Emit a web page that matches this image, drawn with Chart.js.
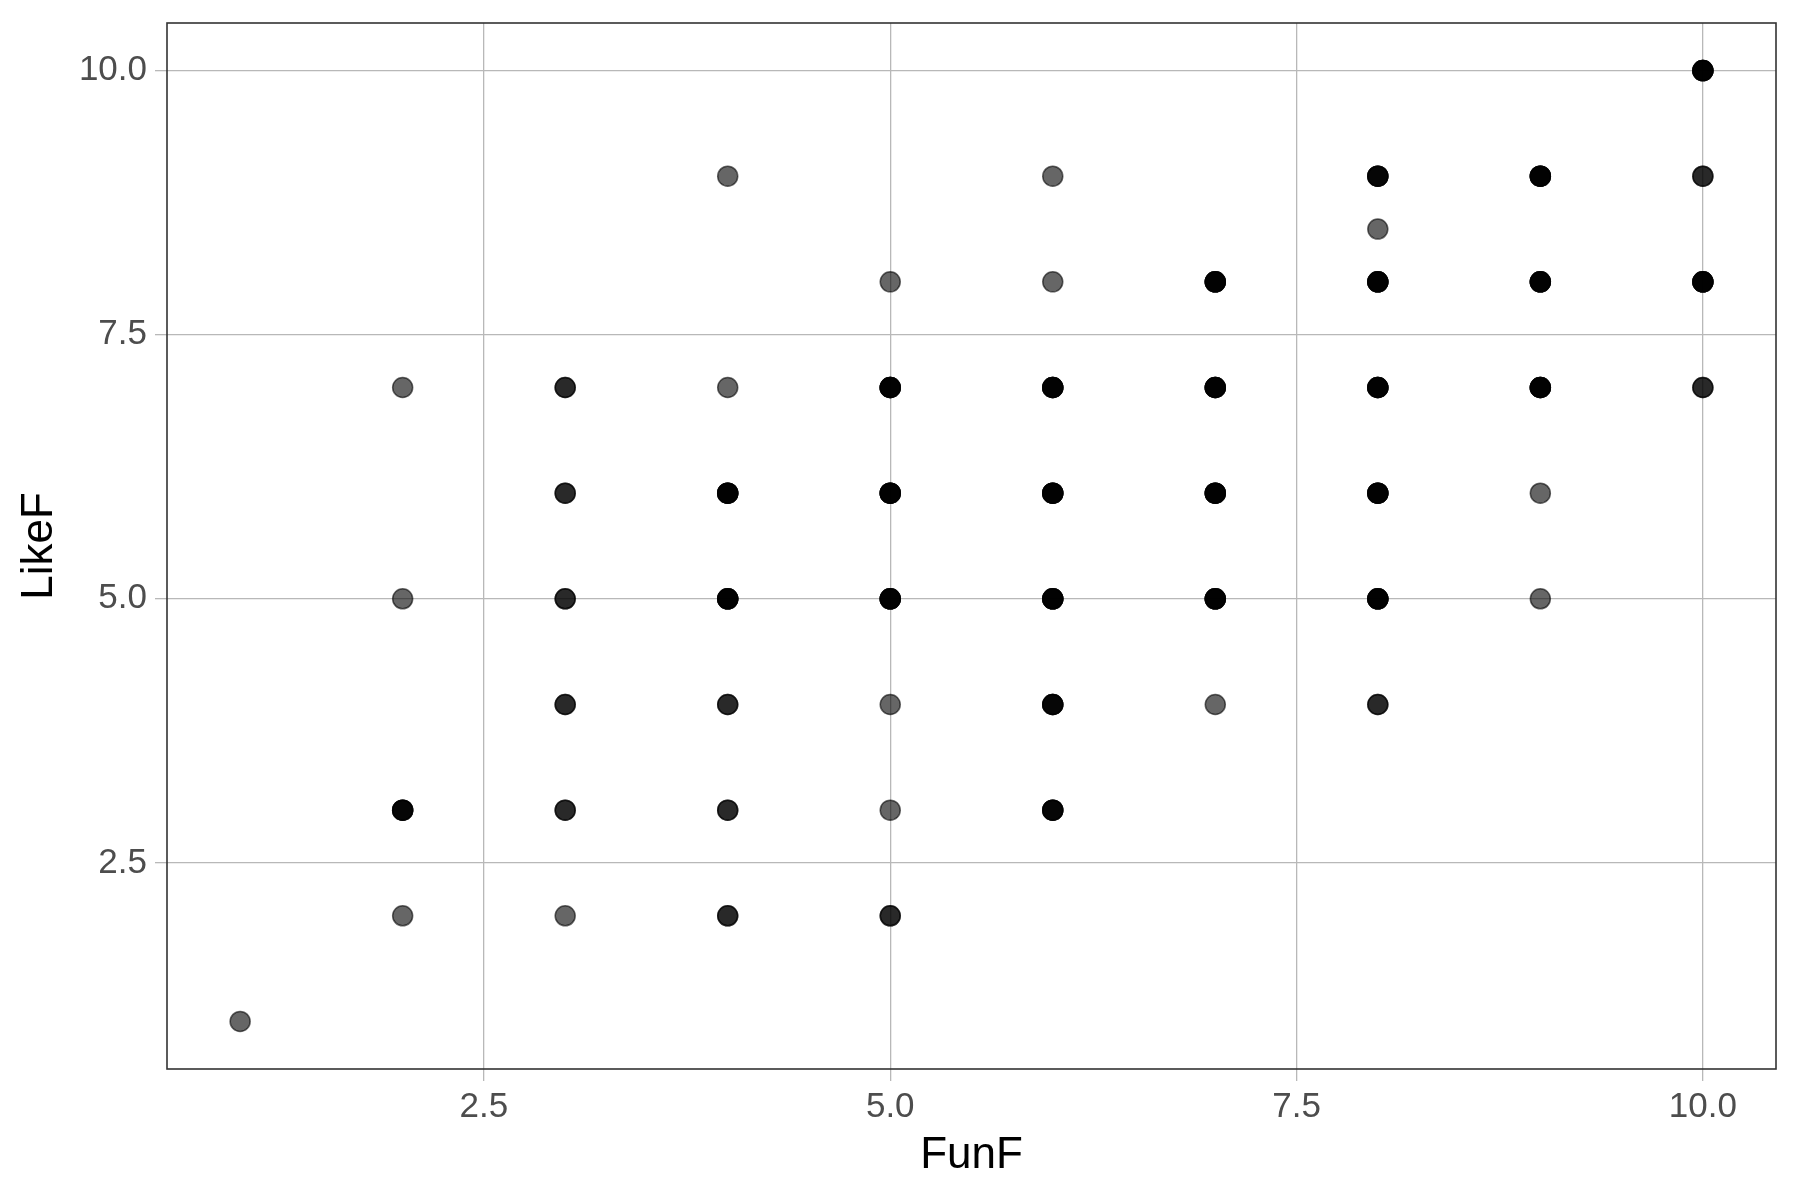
<!DOCTYPE html>
<html>
<head>
<meta charset="utf-8">
<script src="https://cdn.jsdelivr.net/npm/chart.js@4"></script>
<style>
  html, body { margin: 0; padding: 0; background: #fff; }
  #wrap { width: 1800px; height: 1200px; }
</style>
</head>
<body>
<div id="wrap"><canvas id="chart" width="1800" height="1200"></canvas></div>
<script>
// Distinct (FunF, LikeF) positions and how many responses sit on each one
const funF  = [1,  2, 2, 2, 2,  3, 3, 3, 3, 3, 3,  4, 4, 4, 4, 4, 4, 4,  5, 5, 5, 5, 5, 5, 5,
               6, 6, 6, 6, 6, 6, 6,  7, 7, 7, 7, 7,  8, 8, 8, 8, 8, 8, 8,  9, 9, 9, 9, 9,  10, 10, 10, 10];
const likeF = [1,  7, 5, 3, 2,  7, 6, 5, 4, 3, 2,  9, 7, 6, 5, 4, 3, 2,  8, 7, 6, 5, 4, 3, 2,
               9, 8, 7, 6, 5, 4, 3,  8, 7, 6, 5, 4,  9, 8.5, 8, 7, 6, 5, 4,  9, 8, 7, 6, 5,  10, 9, 8, 7];
const nObs  = [1,  1, 1, 4, 1,  2, 2, 2, 2, 2, 1,  1, 1, 5, 5, 2, 2, 2,  1, 5, 5, 5, 1, 1, 2,
               1, 1, 5, 5, 5, 4, 4,  5, 5, 5, 5, 1,  4, 1, 5, 5, 5, 5, 2,  5, 5, 5, 1, 1,  5, 2, 5, 2];
const tickValues = [2.5, 5.0, 7.5, 10.0];

// one point per response, so overlapping points darken like in the original
const points = [];
funF.forEach((x, i) => {
  for (let k = 0; k < nObs[i]; k++) points.push({ x, y: likeF[i] });
});

const font = 'Liberation Sans, Arial, sans-serif';
const gridColor = '#b8b8b8';

// frame around the panel
const panelBorder = {
  id: 'panelBorder',
  afterDraw(chart) {
    const { ctx, chartArea: a } = chart;
    ctx.save();
    ctx.strokeStyle = '#333333';
    ctx.lineWidth = 1.6;
    ctx.strokeRect(a.left, a.top, a.right - a.left, a.bottom - a.top);
    ctx.restore();
  }
};

new Chart(document.getElementById('chart'), {
  type: 'scatter',
  data: {
    datasets: [{
      data: points,
      backgroundColor: 'rgba(0,0,0,0.6)',
      borderColor: 'rgba(0,0,0,0.6)',
      borderWidth: 1.5,
      pointRadius: 10,
      pointHoverRadius: 10
    }]
  },
  options: {
    responsive: false,
    animation: false,
    events: [],
    layout: { padding: { left: 0, right: 24, top: 23, bottom: 0 } },
    plugins: { legend: { display: false }, tooltip: { enabled: false } },
    scales: {
      x: {
        type: 'linear',
        min: 0.55,
        max: 10.45,
        afterBuildTicks: s => { s.ticks = tickValues.map(v => ({ value: v })); },
        afterFit: s => { s.height = 131; },
        grid: { color: gridColor, lineWidth: 1.3, tickLength: 12, drawTicks: true },
        border: { display: false },
        ticks: {
          color: '#4d4d4d',
          font: { family: font, size: 35 },
          padding: 5,
          maxRotation: 0,
          callback: v => v.toFixed(1)
        },
        title: {
          display: true,
          text: 'FunF',
          color: '#000',
          font: { family: font, size: 44, lineHeight: 1 },
          padding: { top: 0, bottom: 22 }
        }
      },
      y: {
        type: 'linear',
        min: 0.55,
        max: 10.45,
        afterBuildTicks: s => { s.ticks = tickValues.map(v => ({ value: v })); },
        afterFit: s => { s.width = 167; },
        grid: { color: gridColor, lineWidth: 1.3, tickLength: 12, drawTicks: true },
        border: { display: false },
        ticks: {
          color: '#4d4d4d',
          font: { family: font, size: 35, lineHeight: 0.8 },
          padding: 8,
          callback: v => v.toFixed(1)
        },
        title: {
          display: true,
          text: 'LikeF',
          color: '#000',
          font: { family: font, size: 44, lineHeight: 1 },
          padding: { top: 18, bottom: 0 }
        }
      }
    }
  },
  plugins: [panelBorder]
});
</script>
</body>
</html>
